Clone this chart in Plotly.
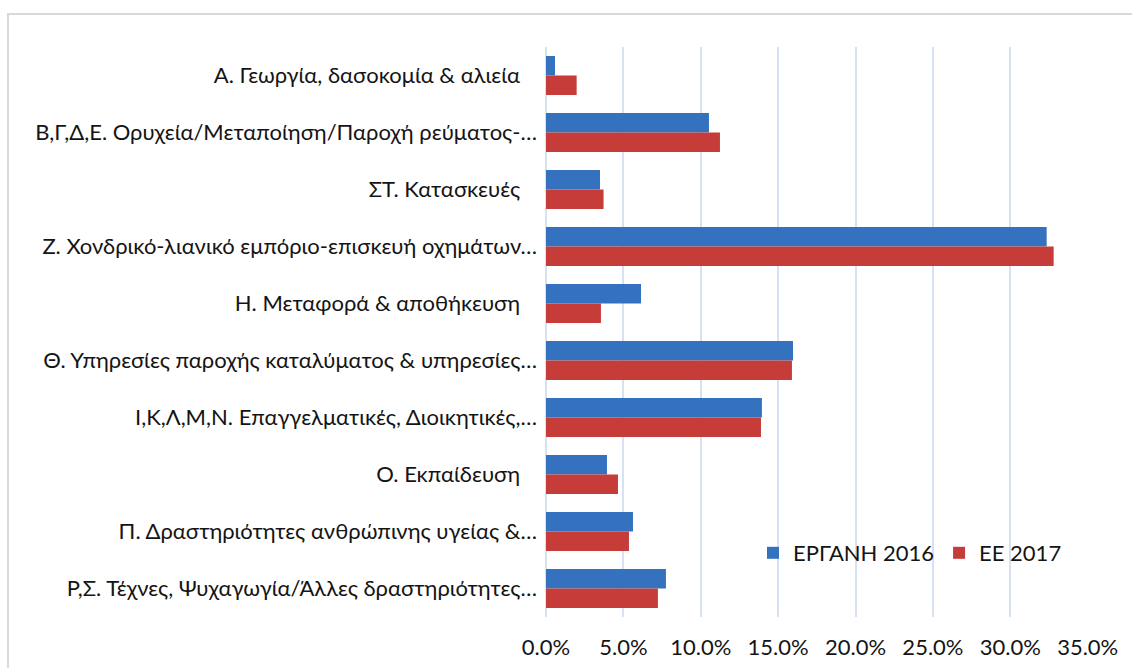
import plotly.graph_objects as go

categories = [
    "Α. Γεωργία, δασοκομία & αλιεία",
    "Β,Γ,Δ,Ε. Ορυχεία/Μεταποίηση/Παροχή ρεύματος-…",
    "ΣΤ. Κατασκευές",
    "Ζ. Χονδρικό-λιανικό εμπόριο-επισκευή οχημάτων…",
    "Η. Μεταφορά & αποθήκευση",
    "Θ. Υπηρεσίες παροχής καταλύματος & υπηρεσίες…",
    "Ι,Κ,Λ,Μ,Ν. Επαγγελματικές, Διοικητικές,…",
    "Ο. Εκπαίδευση",
    "Π. Δραστηριότητες ανθρώπινης υγείας &…",
    "Ρ,Σ. Τέχνες, Ψυχαγωγία/Άλλες δραστηριότητες…",
]
ergani_2016 = [0.58, 10.53, 3.49, 32.35, 6.14, 15.96, 13.95, 3.94, 5.62, 7.75]
ee_2017 = [1.98, 11.24, 3.72, 32.80, 3.55, 15.89, 13.89, 4.65, 5.36, 7.23]
series_names = ["ΕΡΓΑΝΗ 2016", "ΕΕ 2017"]
tick_values = [0, 5, 10, 15, 20, 25, 30, 35]

FONT = "Lato"
FS = 22
TXT = "#141414"
ticktext = [c if c.endswith("…") else c + "\u00a0\u00a0\u00a0" for c in categories]

fig = go.Figure()
fig.add_trace(go.Bar(
    y=categories, x=ergani_2016, orientation="h", name=series_names[0],
    marker=dict(color="#3472C0", line=dict(width=0)),
))
fig.add_trace(go.Bar(
    y=categories, x=ee_2017, orientation="h", name=series_names[1],
    marker=dict(color="#C63C39", line=dict(width=0)),
))

L, R, T, B = 546, 1088, 47, 617
W, H = 1132, 668

fig.update_layout(
    width=W, height=H,
    margin=dict(l=L, r=W - R, t=T, b=H - B, pad=0, autoexpand=False),
    paper_bgcolor="white", plot_bgcolor="white",
    barmode="group", bargap=0.316, bargroupgap=0,
    font=dict(family=FONT, size=FS, color=TXT),
    showlegend=True,
    legend=dict(
        orientation="h", x=(753 - L) / (R - L), y=(B - 553) / (B - T),
        xanchor="left", yanchor="middle",
        font=dict(family=FONT, size=FS, color=TXT),
        bgcolor="rgba(0,0,0,0)", itemwidth=30, traceorder="normal",
    ),
    xaxis=dict(
        range=[0, 35.02], tickvals=tick_values,
        ticktext=[f"{v:.1f}%" for v in tick_values],
        showgrid=True, gridcolor="#D6E2F1", gridwidth=2,
        zeroline=True, zerolinecolor="#D6E2F1", zerolinewidth=2,
        showline=False, ticks="", ticklabelstandoff=15, automargin=False,
        tickfont=dict(family=FONT, size=FS, color=TXT),
        fixedrange=True,
    ),
    yaxis=dict(
        autorange="reversed", tickvals=categories, ticktext=ticktext,
        showgrid=False, zeroline=False, showline=False, ticks="",
        ticklabelstandoff=8, automargin=False,
        tickfont=dict(family=FONT, size=FS, color=TXT),
        fixedrange=True,
    ),
    shapes=[dict(
        type="rect", xref="paper", yref="paper",
        x0=(8 - L) / (R - L), x1=(W + 20 - L) / (R - L),
        y0=(B - (H + 20)) / (B - T), y1=(B - 14) / (B - T),
        line=dict(color="#D9D9D9", width=2), fillcolor="rgba(0,0,0,0)",
        layer="below",
    )],
)

fig.write_html(
    "out.html",
    config={"displayModeBar": False},
    post_script="document.body.style.margin='0';document.body.style.overflow='hidden';",
)
